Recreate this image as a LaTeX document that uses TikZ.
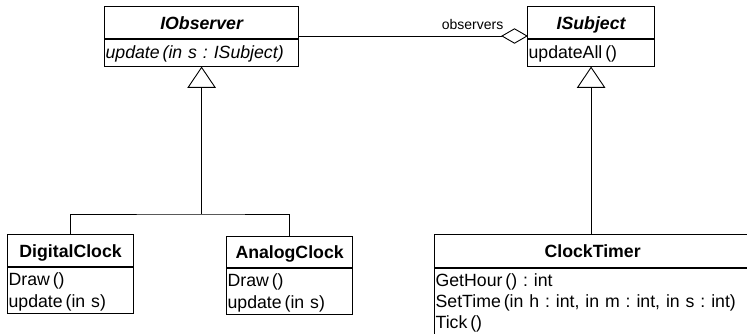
\documentclass[tikz,border=0pt]{standalone}
\usepackage{fontspec}
\setmainfont{Liberation Sans}
\usetikzlibrary{calc}
\newcommand\mystrut{\rule[-5.5pt]{0pt}{22pt}}
\begin{document}
\frenchspacing
\begin{tikzpicture}[x=1pt,y=-1pt,
  box/.style={draw, line width=1.2pt, inner sep=0pt, anchor=north west},
  ttl/.style={box, font=\fontsize{17.7}{22}\selectfont\bfseries, text height=13pt, text depth=0pt},
  ops/.style={box, inner xsep=1pt, inner ysep=0pt, align=left, font=\fontsize{17.7}{22}\selectfont\frenchspacing},
  link/.style={line width=0.9pt},
  lbl/.style={font=\fontsize{14}{16}\selectfont, inner sep=0pt},
]
\useasboundingbox (0,0) rectangle (747,333);
\clip (0,0) rectangle (747,333);

% IObserver
\node[ttl, minimum width=194pt, minimum height=32pt] (obsT) at (104,6) {\itshape IObserver};
\node[ops, text width=192pt, minimum height=27pt] (obsB) at (obsT.south west) {\mystrut\itshape update\,(in s : ISubject)};

% ISubject
\node[ttl, minimum width=127pt, minimum height=32pt] (subT) at (527,6) {\itshape ISubject};
\node[ops, text width=125pt, minimum height=27pt] (subB) at (subT.south west) {\mystrut updateAll\,()};

% DigitalClock
\node[ttl, minimum width=126pt, minimum height=32pt] (digT) at (7,234) {DigitalClock};
\node[ops, text width=124pt, minimum height=46pt] (digB) at (digT.south west) {\mystrut Draw\,()\\\mystrut update\,(in s)};

% AnalogClock
\node[ttl, minimum width=126pt, minimum height=31pt] (anaT) at (226,236) {AnalogClock};
\node[ops, text width=124pt, minimum height=46pt] (anaB) at (anaT.south west) {\mystrut Draw\,()\\\mystrut update\,(in s)};

% ClockTimer
\node[ttl, minimum width=316pt, minimum height=33pt] (ctT) at (434,234) {ClockTimer};
\node[ops, text width=314pt, minimum height=67pt] (ctB) at (ctT.south west) {\mystrut GetHour\,() : int\\[-1pt]\mystrut SetTime\,(in h : int, in m : int, in s : int)\\[-1pt]\mystrut Tick\,()};

% aggregation
\coordinate (aggL) at (502,36);
\coordinate (aggR) at (subT.west |- aggL);
\draw[link] (obsT.east |- aggL) -- (aggL);
\draw[link, fill=white] (aggL) -- ++(12.5,-7.2) -- (aggR) -- ++(-12.5,7.2) -- cycle;
\node[lbl, anchor=base east] (obsLbl) at ($(aggL)+(1.5,-7)$) {observers};

% generalisations
\coordinate (busY) at (0,214);
\coordinate (obsBase) at ($(obsB.south)+(0,20)$);
\coordinate (subBase) at ($(subB.south)+(0,20)$);
\draw[link, fill=white] (obsB.south) -- ++(-13.5,20) -- ++(27,0) -- cycle;
\draw[link, fill=white] (subB.south) -- ++(-13.5,20) -- ++(27,0) -- cycle;
\draw[link] (obsBase) -- (obsBase |- busY);
\draw[link] (digT.north) |- (obsBase |- busY) -| (anaT.north);
\draw[link] (subBase) -- (subBase |- ctT.north);
\end{tikzpicture}
\end{document}
